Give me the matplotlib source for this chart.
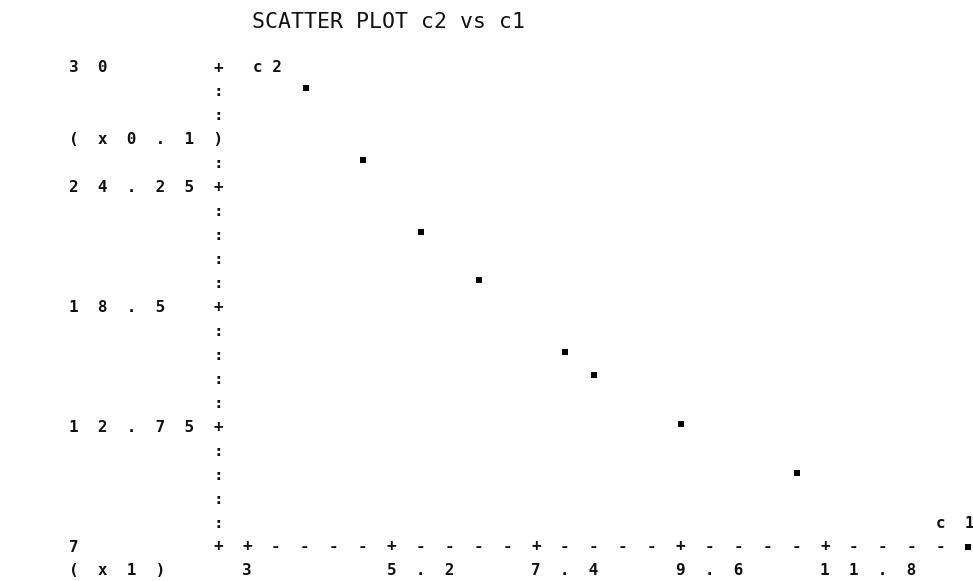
import matplotlib
matplotlib.use("Agg")
import matplotlib.pyplot as plt

# ---- data ----
c1 = [3.90, 4.77, 5.65, 6.53, 7.84, 8.28, 9.61, 11.37, 13.97]
c2 = [29.04, 25.58, 22.12, 19.82, 16.36, 15.26, 12.90, 10.55, 7.0]

x_ticks = [3, 5.2, 7.4, 9.6, 11.8]
x_tick_labels = ["3", "5.2", "7.4", "9.6", "11.8"]
y_ticks = [7, 12.75, 18.5, 24.25, 30]
y_tick_labels = ["7", "12.75", "18.5", "24.25", "30"]
x_scale_label = "(x1)"
y_scale_label = "(x0.1)"
x_name = "c1"
y_name = "c2"
title = "SCATTER PLOT c2 vs c1"

# ---- layout ----
W, H = 973, 581
FONT = "DejaVu Sans Mono"
FS = 11.5
INK = "#111111"

fig = plt.figure(figsize=(W / 100, H / 100), dpi=100)
fig.patch.set_facecolor("white")

DX = (x_ticks[1] - x_ticks[0]) / 5      # one character column
DY = (y_ticks[1] - y_ticks[0]) / 5      # one character row
x_axis = x_ticks[0] - DX                # column of the vertical axis
x_end = x_ticks[-1] + 5 * DX

left_px, right_px = 218, 969.5
top_px, bot_px = 68, 547
ax = fig.add_axes([left_px / W, (H - bot_px) / H,
                   (right_px - left_px) / W, (bot_px - top_px) / H])
ax.set_xlim(x_axis, x_end)
ax.set_ylim(y_ticks[0], y_ticks[-1])
ax.axis("off")


def spaced(s, gap="  "):
    return gap.join(list(s))


def put(x, y, s, **kw):
    ax.text(x, y, s, ha="center", va="center", family=FONT, fontsize=FS,
            fontweight="bold", color=INK, clip_on=False, **kw)


y0 = y_ticks[0]
# vertical axis: '+' at ticks, ':' between
scale_row = 17
n_rows = int(round((y_ticks[-1] - y0) / DY))
for r in range(n_rows + 1):
    if r == scale_row:
        continue
    ch = "+" if r % 5 == 0 else ":"
    put(x_axis, y0 + r * DY, ch)

# horizontal axis: '+' at ticks, '-' between
n_cols = int(round((x_end - x_axis) / DX))
for k in range(1, n_cols):
    ch = "+" if (k - 1) % 5 == 0 else "-"
    put(x_axis + k * DX, y0, ch)

# y tick labels (start 5 columns left of the axis)
for v, lab in zip(y_ticks, y_tick_labels):
    n = len(lab)
    put(x_axis + (-5 + (n - 1) / 2) * DX, v, spaced(lab))

# y scale label, ending on the axis column
n = len(y_scale_label)
put(x_axis + (-5 + (n - 1) / 2) * DX, y0 + scale_row * DY, spaced(y_scale_label))

# x tick labels (row below axis, starting on the tick column)
for v, lab in zip(x_ticks, x_tick_labels):
    n = len(lab)
    put(v + (n - 1) / 2 * DX, y0 - DY, spaced(lab))

# x scale label
n = len(x_scale_label)
put(x_axis + (-5 + (n - 1) / 2) * DX, y0 - DY, spaced(x_scale_label))

# axis names
put(x_axis + 1.7 * DX, y_ticks[-1], spaced(y_name, " "))
put(x_end - 0.5 * DX, y0 + DY, spaced(x_name))

# data points
ax.scatter(c1, c2, marker="s", s=16, color="black", linewidths=0, clip_on=False,
           zorder=3)

# title
fig.text(388 / W, 1 - 22 / H, title, ha="center", va="center", family=FONT,
         fontsize=15.5, color=INK)

fig.savefig("out.png", dpi=100, facecolor="white")
